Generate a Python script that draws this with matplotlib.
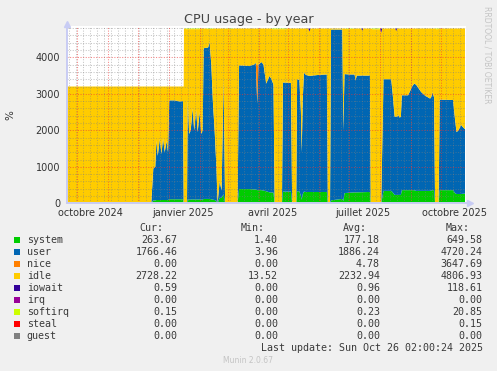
import numpy as np
import pandas as pd
import matplotlib
matplotlib.use("Agg")
import matplotlib.pyplot as plt
import matplotlib.dates as mdates
from matplotlib.patches import Rectangle

# munin "by year" window: 400 days ending at the last update
start = pd.Timestamp("2024-09-21 02:00")
end = pd.Timestamp("2025-10-26 02:00")

# values, x in days since window start
days = [0, 84.5, 86.5, 88.5, 89.7, 91, 93, 94.7, 96.3, 98, 99.7, 101.3, 102.5, 108, 113, 116.3,
        117.0, 117.3, 120.3, 121, 122.5, 124, 126, 127.5, 129.5, 131, 133, 134.5, 136, 137, 141.5,
        143, 144.7, 146.3, 148, 149.7, 151, 153, 155, 157, 158.5, 171, 172.5, 178, 183, 188,
        189.3, 190.7, 192, 195, 197, 199.7, 203, 205, 207, 208.2, 215.5, 216.5, 224.5, 225.7,
        229.8, 230.7, 233, 234.5, 235.3, 236.3, 237.5, 239.5, 243, 253, 260.5, 261.5, 263.7,
        264.7, 270, 276, 277, 278.2, 283, 288.3, 289.3, 290.5, 303.7, 304.5, 315, 317.3, 325,
        326.5, 328.5, 331, 332, 333.5, 334.7, 335.7, 342, 346, 348, 350, 355, 359, 364, 365,
        366.5, 368, 369, 372.5, 373.7, 387, 389, 390.5, 392.5, 395, 396.5, 399]
system = [3, 3, 80, 80, 90, 90, 90, 90, 90, 90, 90, 90, 110, 110, 110, 110,
          0, 0, 0, 110, 100, 100, 110, 100, 110, 100, 110, 100, 100, 120, 120,
          120, 110, 100, 90, 60, 0, 150, 150, 250, 0, 0, 390, 390, 390, 380,
          380, 360, 360, 360, 350, 330, 300, 300, 290, 0, 0, 320, 320, 0,
          0, 330, 330, 200, 100, 250, 320, 310, 310, 310, 310, 0, 0,
          80, 100, 120, 60, 280, 290, 300, 300, 300, 310, 0, 0, 340, 340,
          300, 230, 230, 230, 230, 230, 360, 360, 360, 360, 340, 340, 340, 340, 350,
          360, 360, 0, 0, 360, 360, 280, 255, 255, 255, 260, 264]
user = [4, 4, 870, 920, 1630, 1210, 1670, 1260, 1690, 1310, 1610, 1310, 2710, 2710, 2680, 2690,
        0, 0, 0, 2730, 1800, 1900, 2490, 1900, 2440, 1850, 2390, 1800, 1900, 4130, 4150,
        4300, 3670, 2660, 1910, 980, 0, 450, 200, 3150, 0, 0, 3390, 3380, 3370, 3430,
        3470, 2370, 3440, 3510, 3450, 2950, 3190, 3100, 2960, 0, 0, 2990, 2980, 0,
        0, 3070, 3050, 2300, 1300, 2550, 3260, 3210, 3180, 3210, 3220, 0, 0,
        4680, 4660, 4640, 1940, 3260, 3240, 3230, 3070, 3200, 3190, 0, 0, 3060, 3060,
        2700, 2140, 2140, 2190, 2120, 2140, 2600, 2600, 2840, 2920, 2910, 2710, 2610, 2530, 2550,
        2680, 2540, 0, 0, 2480, 2470, 2020, 1695, 1745, 1895, 1840, 1766]

nice_days = [189.3, 190.7, 192.0]
nice_vals = [0, 1050, 0]

softirq_days = [118, 119, 133, 134, 139, 140, 146, 147, 159, 160, 166, 167,
                205, 206, 220, 221, 279, 280, 286, 287, 305, 306, 314, 315, 369, 370, 372, 373]
softirq_vals = [0, 18, 18, 0, 0, 15, 15, 0, 0, 15, 15, 0,
                0, 18, 18, 0, 0, 15, 15, 0, 0, 20, 20, 0, 0, 18, 18, 0]

iowait_days = [242, 243, 244, 295, 296, 297, 314, 315, 316, 329, 330, 331]
iowait_vals = [0, 90, 0, 0, 60, 0, 0, 118, 0, 0, 70, 0]

capacity_days = [0, 117.0, 117.3, 400]
capacity_vals = [3200, 3200, 4790, 4790]

# legend table
names = ["system", "user", "nice", "idle", "iowait", "irq", "softirq", "steal", "guest"]
colors = ["#00CC00", "#0066B3", "#FF8000", "#FFCC00", "#330099",
          "#990099", "#CCFF00", "#FF0000", "#808080"]
cur_vals = [263.67, 1766.46, 0.00, 2728.22, 0.59, 0.00, 0.15, 0.00, 0.00]
min_vals = [1.40, 3.96, 0.00, 13.52, 0.00, 0.00, 0.00, 0.00, 0.00]
avg_vals = [177.18, 1886.24, 4.78, 2232.94, 0.96, 0.00, 0.23, 0.00, 0.00]
max_vals = [649.58, 4720.24, 3647.69, 4806.93, 118.61, 0.00, 20.85, 0.15, 0.00]

tick_months = ["2024-10-01", "2025-01-01", "2025-04-01", "2025-07-01", "2025-10-01"]
tick_labels = ["octobre 2024", "janvier 2025", "avril 2025", "juillet 2025", "octobre 2025"]

# ---------------------------------------------------------------
W, H = 497, 371
grid = np.union1d(days, np.concatenate([nice_days, softirq_days, iowait_days, capacity_days]))
grid = grid[grid <= 399]
s_sys = np.interp(grid, days, system)
s_user = np.interp(grid, days, user)
s_nice = np.interp(grid, nice_days, nice_vals, left=0, right=0)
s_soft = np.interp(grid, softirq_days, softirq_vals, left=0, right=0)
s_iow = np.interp(grid, iowait_days, iowait_vals, left=0, right=0)
cap = np.interp(grid, capacity_days, capacity_vals)
s_idle = cap - s_sys - s_user - s_nice - s_soft - s_iow

t0 = mdates.date2num(start)
x = t0 + grid

fig = plt.figure(figsize=(W / 100, H / 100), dpi=100, facecolor="#f0f0f0")
ax = fig.add_axes([67 / W, (H - 203.3) / H, 399 / W, (203.3 - 26) / H])
ax.set_facecolor("white")

ax.stackplot(x, s_sys, s_user, s_nice, s_idle, s_iow, s_soft,
             colors=["#00CC00", "#0066B3", "#FF8000", "#FFCC00", "#330099", "#CCFF00"],
             linewidth=0, zorder=2)

ax.set_xlim(t0, mdates.date2num(end))
ax.set_ylim(0, 4858)

# rrdtool style dotted grid drawn over the data
dots = (0, (1, 1.5))
minor_c = (0.5, 0.5, 0.5, 0.45)
major_c = (0.95, 0.2, 0.2, 0.6)
for yv in range(200, 4801, 200):
    ax.axhline(yv, color=major_c if yv % 1000 == 0 else minor_c, lw=0.75, ls=dots, zorder=5)
for d in pd.date_range(start, end, freq="W-MON"):
    ax.axvline(mdates.date2num(d), color=minor_c, lw=0.75, ls=dots, zorder=5)
for d in pd.date_range(start, end, freq="MS"):
    ax.axvline(mdates.date2num(d), color=major_c, lw=0.75, ls=dots, zorder=5)

for side in ["top", "right"]:
    ax.spines[side].set_visible(False)
axis_c = "#c8ccf4"
for side in ["left", "bottom"]:
    ax.spines[side].set_color(axis_c)
    ax.spines[side].set_linewidth(1.4)
    ax.spines[side].set_zorder(6)
ax.plot([0], [1.01], marker="^", ms=4, color=axis_c, transform=ax.transAxes, clip_on=False)
ax.plot([1.01], [0], marker=">", ms=4, color=axis_c, transform=ax.transAxes, clip_on=False)

label_pos = [mdates.date2num(pd.Timestamp(m) + pd.Timedelta(days=14)) for m in tick_months]
ax.set_xticks(label_pos, tick_labels)
ax.set_yticks([0, 1000, 2000, 3000, 4000], ["0", "1000", "2000", "3000", "4000"])
ax.tick_params(axis="both", length=0, labelsize=7, colors="#333333")
ax.tick_params(axis="x", pad=3.5)
ax.tick_params(axis="y", pad=5)

fig.text(0.5, 1 - 19.3 / H, "CPU usage - by year", ha="center", va="center",
         fontsize=9.2, color="#444444")
fig.text(10.5 / W, 1 - 115 / H, "%", rotation=90, ha="center", va="center",
         fontsize=7.5, color="#333333")
fig.text(487 / W, 1 - 6 / H, "RRDTOOL / TOBI OETIKER", rotation=270, ha="center", va="top",
         fontsize=5.5, color="#c4c4c4")

# legend block
mono = "DejaVu Sans Mono"
tc = "#3a3a3a"
fs = 7.2
def fy(px):
    return 1 - px / H

head_y = 228.3
for label, right in zip(["Cur:", "Min:", "Avg:", "Max:"], [163.3, 265, 367, 470]):
    fig.text(right / W, fy(head_y), label, ha="right", va="center", family=mono, fontsize=fs, color=tc)

for i, name in enumerate(names):
    yc = 240 + 12 * i
    fig.add_artist(Rectangle((14 / W, fy(yc + 3)), 6 / W, 6 / H, transform=fig.transFigure,
                             color=colors[i], lw=0))
    fig.text(26.7 / W, fy(yc), name, ha="left", va="center", family=mono, fontsize=fs, color=tc)
    for vals, right in zip([cur_vals, min_vals, avg_vals, max_vals], [177.5, 278, 380, 482.7]):
        fig.text(right / W, fy(yc), f"{vals[i]:.2f}", ha="right", va="center",
                 family=mono, fontsize=fs, color=tc)

fig.text(482.7 / W, fy(348), "Last update: Sun Oct 26 02:00:24 2025", ha="right", va="center",
         family=mono, fontsize=fs, color=tc)
fig.text(248 / W, fy(360.5), "Munin 2.0.67", ha="center", va="center",
         fontsize=5.5, color="#c4c4c4")

fig.savefig("out.png", dpi=100, facecolor=fig.get_facecolor())
